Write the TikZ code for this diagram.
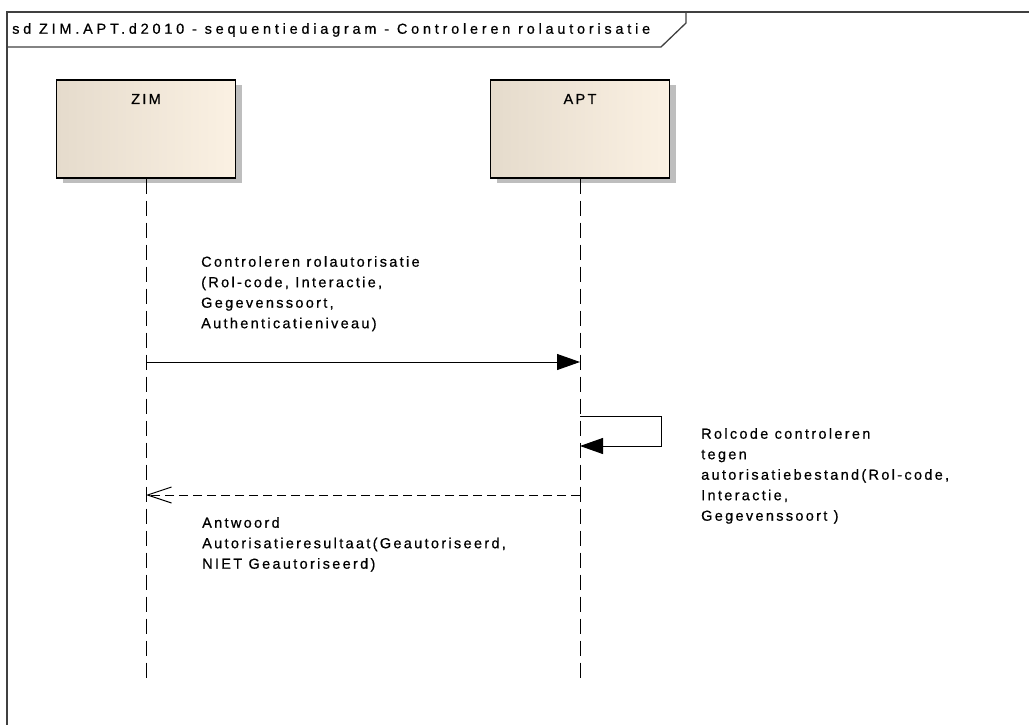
\documentclass[tikz,border=0pt]{standalone}
\usepackage{fontspec}
\setmainfont{Liberation Sans}
\newfontfamily\dfont[LetterSpace=16,FakeBold=0.6]{Liberation Sans}
\newfontfamily\tfont[LetterSpace=26,FakeBold=0.6]{Liberation Sans}
\usetikzlibrary{arrows.meta}
\definecolor{boxleft}{RGB}{229,219,204}
\definecolor{boxmid}{RGB}{246,236,222}
\definecolor{boxright}{RGB}{251,241,227}
\definecolor{framecol}{RGB}{64,64,64}
\definecolor{shadowcol}{RGB}{190,190,190}
\begin{document}
\begin{tikzpicture}[x=1pt,y=-1pt,
  txt/.style={font=\dfont\fontsize{14.5}{20.5}\selectfont, inner sep=0pt, align=left, anchor=north west, text=black},
  titletxt/.style={font=\tfont\fontsize{14.5}{20.5}\selectfont, inner sep=0pt, anchor=west, text=black},
  lifebox/.style={draw=black, line width=1.4pt, left color=boxleft, middle color=boxmid, right color=boxright, shading angle=90, minimum width=179pt, minimum height=98pt, inner sep=0pt},
  boxshadow/.style={fill=shadowcol, draw=none, minimum width=179pt, minimum height=98pt, inner sep=0pt},
  lifeline/.style={line width=1pt, dash pattern=on 15pt off 7pt},
  syncmsg/.style={line width=1pt, -{Triangle[length=23pt,width=16pt]}},
  retmsg/.style={line width=1pt, dash pattern=on 9pt off 5pt, -{Straight Barb[length=24pt,width=16pt,line width=1pt]}}
]
\useasboundingbox (0,0) rectangle (1029,725);
\begin{scope}
\clip (0,0) rectangle (1029,725);
% frame
\draw[framecol, line width=1.6pt] (7,800) -- (7,12) -- (1100,12);
\draw[framecol, line width=1.3pt] (686,12) -- (686,23) -- (661,47) -- (7,47);
\end{scope}
\node[titletxt] (title) at (12,30) {sd ZIM.APT.d2010 - sequentiediagram - Controleren rolautorisatie};

% lifeline boxes
\node[boxshadow] (zimsh) at (152,134) {};
\node[boxshadow] (aptsh) at (586,134) {};
\node[lifebox] (zim) at (146,129) {};
\node[lifebox] (apt) at (580,129) {};
\node[txt, anchor=center] (zimname) at (146,99) {ZIM};
\node[txt, anchor=center] (aptname) at (580,99) {APT};

\coordinate (zimend) at (146,680);
\coordinate (aptend) at (580,680);
\draw[lifeline] (zim.south) -- (zimend);
\draw[lifeline] (apt.south) -- (aptend);

% message 1
\coordinate (m1s) at (146,362);
\coordinate (m1e) at (580,362);
\draw[syncmsg] (m1s) -- (m1e);
\node[txt] (m1label) at (201,256) {Controleren rolautorisatie\\(Rol-code, Interactie,\\Gegevenssoort,\\Authenticatieniveau)};

% self message
\coordinate (s1a) at (580,416);
\coordinate (s1b) at (661,416);
\coordinate (s1c) at (661,446);
\coordinate (s1d) at (580,446);
\draw[syncmsg] (s1a) -- (s1b) -- (s1c) -- (s1d);
\node[txt] (s1label) at (701,428) {Rolcode controleren\\tegen\\autorisatiebestand(Rol-code,\\Interactie,\\Gegevenssoort )};

% return message
\coordinate (r1s) at (580,495);
\coordinate (r1e) at (146,495);
\draw[retmsg] (r1s) -- (r1e);
\node[txt] (r1label) at (202,517) {Antwoord\\Autorisatieresultaat(Geautoriseerd,\\NIET Geautoriseerd)};
\end{tikzpicture}
\end{document}
